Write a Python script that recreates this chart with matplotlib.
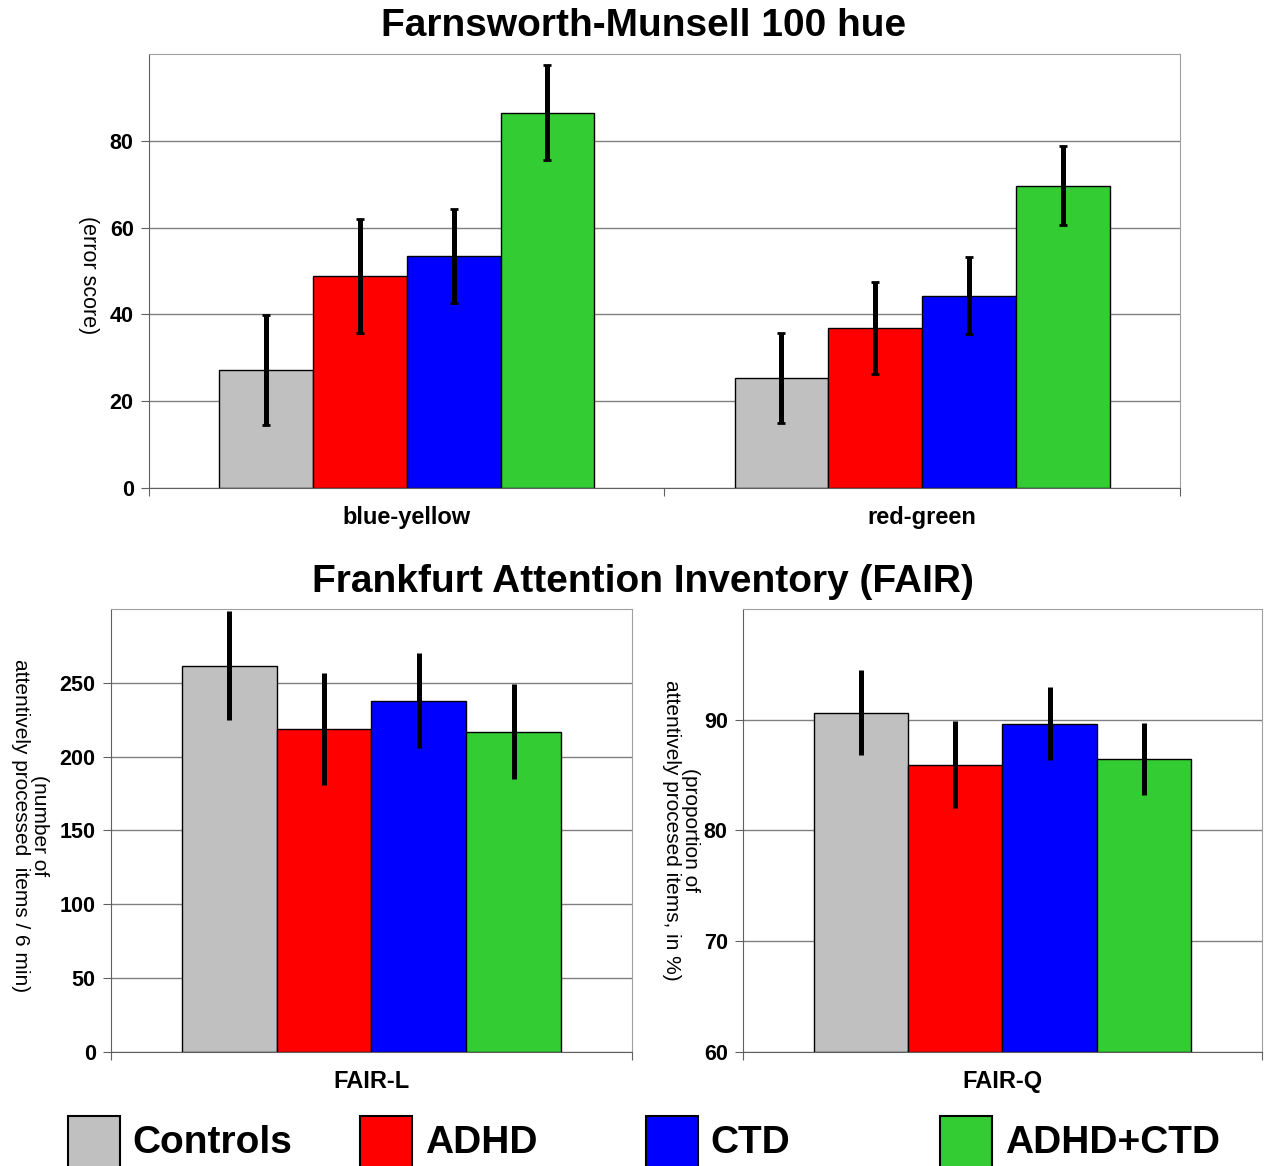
import numpy as np
import matplotlib.pyplot as plt
from matplotlib.patches import Rectangle

plt.rcParams['font.family'] = ['Liberation Sans', 'DejaVu Sans']

groups = ["Controls", "ADHD", "CTD", "ADHD+CTD"]
colors = ["#c0c0c0", "#ff0000", "#0000ff", "#33cc33"]

# Farnsworth-Munsell 100 hue
fm_categories = ["blue-yellow", "red-green"]
fm_means = {"Controls": [27.2, 25.4], "ADHD": [48.9, 36.9],
            "CTD": [53.5, 44.3], "ADHD+CTD": [86.5, 69.6]}
fm_err = {"Controls": [12.7, 10.4], "ADHD": [13.1, 10.6],
          "CTD": [10.8, 8.9], "ADHD+CTD": [11.0, 9.1]}

# FAIR
fair_l_means = [261.5, 218.5, 238.0, 217.0]
fair_l_err = [37, 38, 32, 32]
fair_q_means = [90.65, 85.95, 89.65, 86.45]
fair_q_err = [3.8, 3.9, 3.3, 3.25]

width = 0.182
grid_col = "#808080"


def style_axes(ax, ylim, yticks):
    ax.set_ylim(*ylim)
    ax.set_yticks(yticks)
    ax.yaxis.grid(True, color=grid_col, lw=1)
    ax.set_axisbelow(True)
    for s in ["top", "right"]:
        ax.spines[s].set_color("#a0a0a0")
    for s in ["left", "bottom"]:
        ax.spines[s].set_color("#606060")
    ax.tick_params(axis="y", length=6, color="#606060", labelsize=15.5, pad=5)
    ax.tick_params(axis="x", length=6, color="#606060", labelsize=16, pad=14)
    for lab in ax.get_yticklabels():
        lab.set_fontweight("bold")


fig = plt.figure(figsize=(12.64, 11.66), dpi=100)

# top chart
ax1 = fig.add_axes([0.1179, 0.5815, 0.8156, 0.3722])
x = np.arange(len(fm_categories))
offsets = (np.arange(len(groups)) - 1.5) * width
for g, c, off in zip(groups, colors, offsets):
    ax1.bar(x + off, fm_means[g], width, color=c, edgecolor="black", lw=1,
            yerr=fm_err[g], error_kw=dict(ecolor="black", elinewidth=3.6,
                                          capsize=3, capthick=2))
ax1.set_xlim(-0.5, 1.5)
style_axes(ax1, (0, 100), [0, 20, 40, 60, 80])
ax1.set_xticks([-0.5, 0.5, 1.5])
ax1.set_xticklabels([])
ax1.set_xticks(x, minor=True)
ax1.set_xticklabels(fm_categories, minor=True, fontweight="bold", fontsize=17)
ax1.tick_params(axis="x", which="minor", length=0, pad=13)
ax1.set_ylabel("(error score)", fontsize=15.5, rotation=270, va="center",
               ha="center")
ax1.yaxis.set_label_coords(-0.059, 0.49)
fig.text(0.509, 0.978, "Farnsworth-Munsell 100 hue", ha="center", va="center",
         fontsize=28, fontweight="bold")

# bottom charts
ax2 = fig.add_axes([0.0878, 0.0978, 0.4122, 0.3799])
ax3 = fig.add_axes([0.5878, 0.0978, 0.4106, 0.3799])
for ax, means, errs, name, ylim, yt, ylab, lx, ly in [
        (ax2, fair_l_means, fair_l_err, "FAIR-L", (0, 300),
         [0, 50, 100, 150, 200, 250],
         "(number of\nattentively processed  items / 6 min)", -0.155, 0.51),
        (ax3, fair_q_means, fair_q_err, "FAIR-Q", (60, 100), [60, 70, 80, 90],
         "(proportion of\nattentively procesed items, in %)", -0.12, 0.50)]:
    for i, (g, c, off) in enumerate(zip(groups, colors, offsets)):
        ax.bar([off], [means[i] - ylim[0]], width, bottom=ylim[0], color=c,
               edgecolor="black", lw=1, yerr=[errs[i]],
               error_kw=dict(ecolor="black", elinewidth=3.6, capsize=0))
    ax.set_xlim(-0.5, 0.5)
    style_axes(ax, ylim, yt)
    ax.set_xticks([-0.5, 0.5])
    ax.set_xticklabels([])
    ax.set_xticks([0], minor=True)
    ax.set_xticklabels([name], minor=True, fontweight="bold", fontsize=17)
    ax.tick_params(axis="x", which="minor", length=0, pad=13)
    ax.set_ylabel(ylab, fontsize=15, linespacing=1.0, rotation=270,
                  va="center", ha="center")
    ax.yaxis.set_label_coords(lx, ly)

fig.text(0.509, 0.501, "Frankfurt Attention Inventory (FAIR)", ha="center",
         va="center", fontsize=28, fontweight="bold")

# legend
leg_x = [0.054, 0.285, 0.511, 0.744]
for lx, g, c in zip(leg_x, groups, colors):
    fig.add_artist(Rectangle((lx, -0.005), 0.041, 0.048, transform=fig.transFigure,
                             facecolor=c, edgecolor="black", lw=1.5))
    fig.text(lx + 0.051, 0.02, g, ha="left", va="center", fontsize=28,
             fontweight="bold")

fig.savefig("out.png", dpi=100)
